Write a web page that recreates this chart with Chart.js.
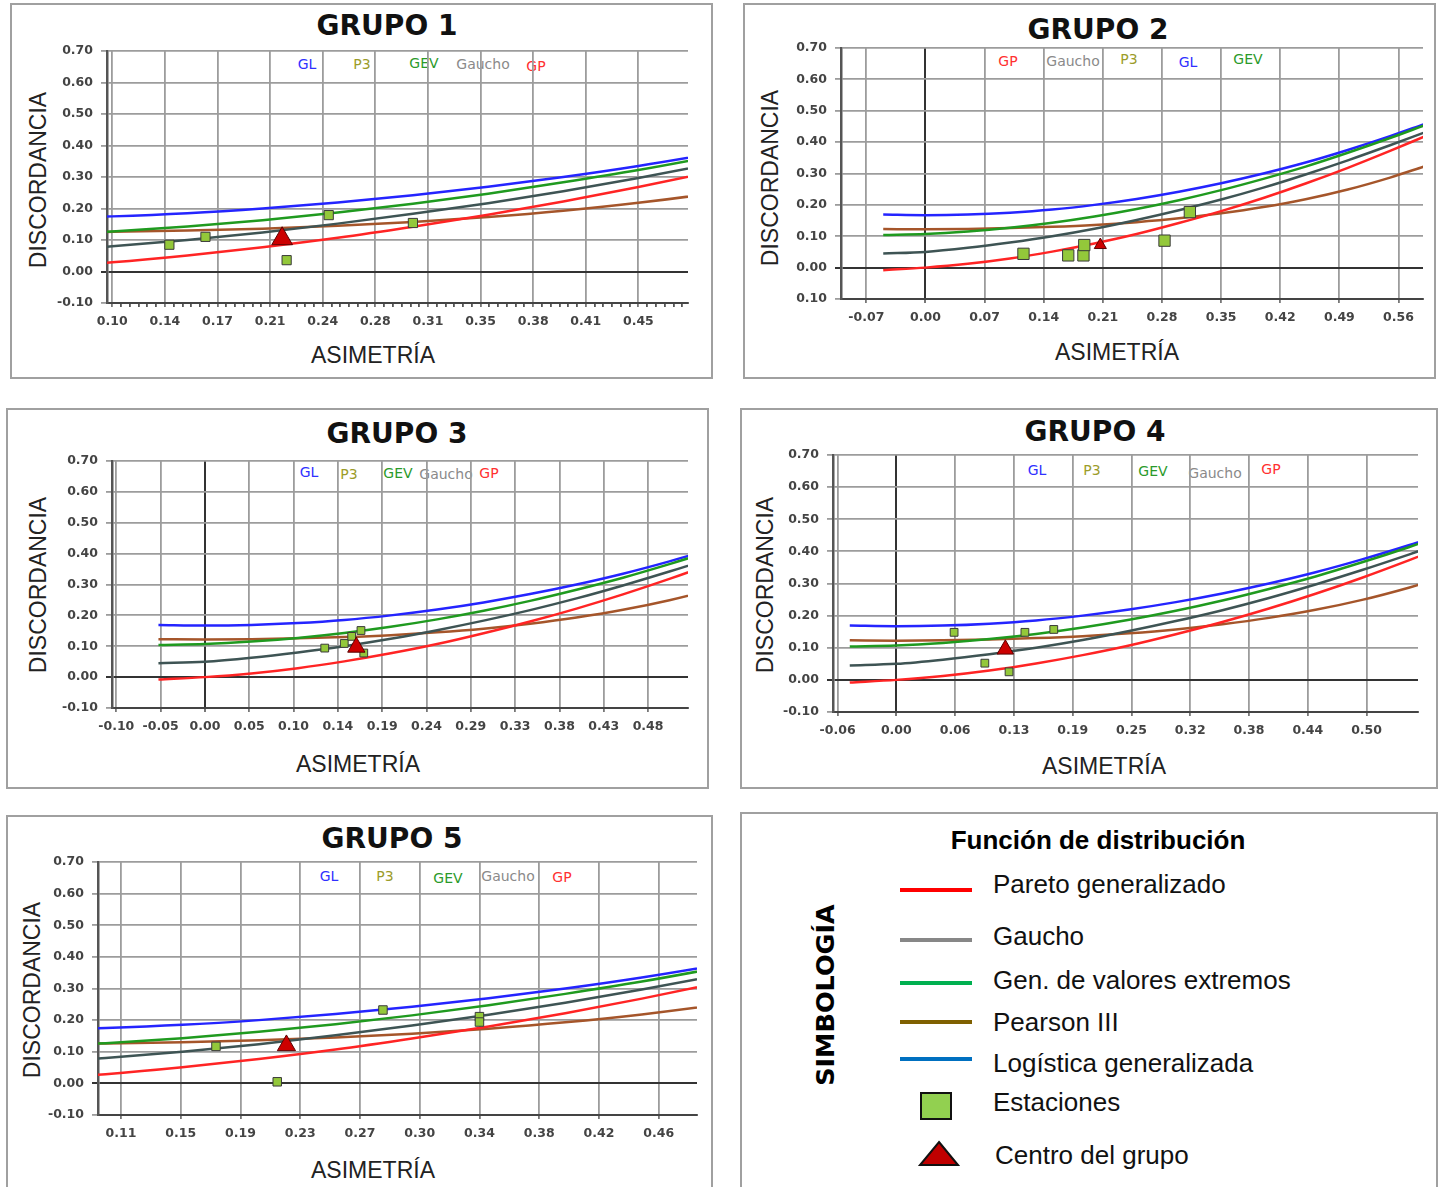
<!DOCTYPE html>
<html lang="es">
  <head>
    <meta charset="UTF-8" />
    <title>Diagramas de discordancia por grupo</title>
    <script src="https://cdn.jsdelivr.net/npm/chart.js"></script>
    <style>
      body {
        margin: 0;
        width: 1440px;
        height: 1187px;
        position: relative;
        overflow: hidden;
        background: #fff;
        font-family: "Liberation Sans", Arial, sans-serif;
      }
      .panel {
        position: absolute;
        box-sizing: border-box;
        border: 2px solid #a0a0a0;
      }
      .center {
        position: absolute;
        transform: translate(-50%, -50%);
        white-space: nowrap;
      }
      .title {
        font-family: "DejaVu Sans", sans-serif;
        font-weight: bold;
        font-size: 28px;
        color: #111;
      }
      .axis-title {
        font-size: 23px;
        color: #222;
      }
      .vertical {
        transform: translate(-50%, -50%) rotate(-90deg);
      }
      .tag {
        font-family: "DejaVu Sans", sans-serif;
        font-size: 14px;
      }
      canvas {
        position: absolute;
      }
      .legend-text {
        position: absolute;
        font-size: 26px;
        color: #111;
        transform: translateY(-50%);
        white-space: nowrap;
      }
      .swatch {
        position: absolute;
        left: 900px;
        width: 72px;
        height: 4px;
      }
    </style>
  </head>
  <body>
    <div id="page"></div>

    <!-- legend panel -->
    <div class="panel" style="left: 740px; top: 812px; width: 698px; height: 378px"></div>
    <div class="center" style="left: 1098px; top: 840px; font-weight: bold; font-size: 26px">
      Función de distribución
    </div>
    <div class="center vertical" style="left: 825px; top: 995px; font-family: 'DejaVu Sans'; font-weight: bold; font-size: 25.5px">
      SIMBOLOGÍA
    </div>
    <div class="swatch" style="top: 888px; background: #ff0000"></div>
    <div class="swatch" style="top: 938px; background: #878787"></div>
    <div class="swatch" style="top: 981px; background: #00b050"></div>
    <div class="swatch" style="top: 1020px; background: #7f6000"></div>
    <div class="swatch" style="top: 1057px; background: #0070c0"></div>
    <div style="position: absolute; left: 920px; top: 1092px; width: 28px; height: 24px; background: #92d050; border: 2px solid #111"></div>
    <svg style="position: absolute; left: 917px; top: 1140px" width="44" height="28">
      <polygon points="22,2 41,25 3,25" fill="#c00000" stroke="#111" stroke-width="2" />
    </svg>
    <div class="legend-text" style="left: 993px; top: 884px">Pareto generalizado</div>
    <div class="legend-text" style="left: 993px; top: 936px">Gaucho</div>
    <div class="legend-text" style="left: 993px; top: 980px">Gen. de valores extremos</div>
    <div class="legend-text" style="left: 993px; top: 1022px">Pearson III</div>
    <div class="legend-text" style="left: 993px; top: 1063px">Logística generalizada</div>
    <div class="legend-text" style="left: 993px; top: 1102px">Estaciones</div>
    <div class="legend-text" style="left: 995px; top: 1155px">Centro del grupo</div>

    <script>
      // theoretical curves (asimetría -> discordancia)
      const curveX = [-0.05, 0, 0.05, 0.1, 0.15, 0.2, 0.25, 0.3, 0.35, 0.4, 0.45, 0.5, 0.55, 0.59];
      const gpValues = [-0.008, 0, 0.012, 0.029, 0.051, 0.077, 0.107, 0.142, 0.18, 0.222, 0.268, 0.318, 0.372, 0.417];
      const gauchoValues = [0.045, 0.05, 0.063, 0.08, 0.1, 0.124, 0.152, 0.183, 0.217, 0.255, 0.297, 0.342, 0.39, 0.43];
      const gevValues = [0.104, 0.107, 0.115, 0.127, 0.143, 0.163, 0.187, 0.215, 0.247, 0.283, 0.322, 0.366, 0.413, 0.453];
      const p3Values = [0.123, 0.122, 0.123, 0.126, 0.13, 0.136, 0.145, 0.157, 0.173, 0.193, 0.218, 0.249, 0.287, 0.322];
      const glValues = [0.169, 0.167, 0.169, 0.175, 0.185, 0.2, 0.219, 0.242, 0.269, 0.3, 0.335, 0.375, 0.419, 0.457];

      const yTicks = [-0.1, 0, 0.1, 0.2, 0.3, 0.4, 0.5, 0.6, 0.7];
      const yTickLabels = ["-0.10", "0.00", "0.10", "0.20", "0.30", "0.40", "0.50", "0.60", "0.70"];
      const yTickLabelsG2 = ["0.10", "0.00", "0.10", "0.20", "0.30", "0.40", "0.50", "0.60", "0.70"];

      // Grupo 1
      const g1Ticks = [0.1, 0.135, 0.17, 0.205, 0.24, 0.275, 0.31, 0.345, 0.38, 0.415, 0.45];
      const g1TickLabels = ["0.10", "0.14", "0.17", "0.21", "0.24", "0.28", "0.31", "0.35", "0.38", "0.41", "0.45"];
      const g1StationX = [0.138, 0.162, 0.216, 0.244, 0.3];
      const g1StationY = [0.085, 0.11, 0.036, 0.179, 0.154];
      const g1CenterX = [0.213];
      const g1CenterY = [0.104];

      // Grupo 2
      const g2Ticks = [-0.07, 0, 0.07, 0.14, 0.21, 0.28, 0.35, 0.42, 0.49, 0.56];
      const g2TickLabels = ["-0.07", "0.00", "0.07", "0.14", "0.21", "0.28", "0.35", "0.42", "0.49", "0.56"];
      const g2StationX = [0.116, 0.169, 0.187, 0.188, 0.283, 0.313];
      const g2StationY = [0.044, 0.039, 0.039, 0.072, 0.086, 0.177];
      const g2CenterX = [0.207];
      const g2CenterY = [0.072];

      // Grupo 3
      const g3Ticks = [-0.0954, -0.0477, 0, 0.0477, 0.0954, 0.1431, 0.1908, 0.2385, 0.2862, 0.3339, 0.3816, 0.4293, 0.477];
      const g3TickLabels = ["-0.10", "-0.05", "0.00", "0.05", "0.10", "0.14", "0.19", "0.24", "0.29", "0.33", "0.38", "0.43", "0.48"];
      const g3StationX = [0.129, 0.15, 0.158, 0.168, 0.171];
      const g3StationY = [0.094, 0.109, 0.132, 0.151, 0.078];
      const g3CenterX = [0.163];
      const g3CenterY = [0.097];

      // Grupo 4
      const g4Ticks = [-0.0631, 0, 0.0631, 0.1262, 0.1893, 0.2524, 0.3155, 0.3786, 0.4417, 0.5048];
      const g4TickLabels = ["-0.06", "0.00", "0.06", "0.13", "0.19", "0.25", "0.32", "0.38", "0.44", "0.50"];
      const g4StationX = [0.062, 0.095, 0.121, 0.138, 0.169];
      const g4StationY = [0.148, 0.052, 0.025, 0.148, 0.157];
      const g4CenterX = [0.117];
      const g4CenterY = [0.095];

      // Grupo 5
      const g5Ticks = [0.11, 0.149, 0.188, 0.227, 0.266, 0.305, 0.344, 0.383, 0.422, 0.461];
      const g5TickLabels = ["0.11", "0.15", "0.19", "0.23", "0.27", "0.30", "0.34", "0.38", "0.42", "0.46"];
      const g5StationX = [0.172, 0.212, 0.281, 0.344, 0.344];
      const g5StationY = [0.117, 0.005, 0.232, 0.211, 0.194];
      const g5CenterX = [0.218];
      const g5CenterY = [0.12];

      const tagNames = ["GL", "P3", "GEV", "Gaucho", "GP"];
      const tagColors = { GL: "#3030ff", P3: "#9c9c2a", GEV: "#2a9a2a", Gaucho: "#8a8a8a", GP: "#ff3030" };

      // layout of each panel (page pixels)
      const groups = [
        {
          title: "GRUPO 1", box: [10, 3, 703, 376], plot: [107, 51, 689, 303],
          titlePos: [387, 25], xTitlePos: [373, 355], yTitlePos: [38, 180],
          xMin: 0.0965, xMax: 0.483, ticks: g1Ticks, labels: g1TickLabels, yLabels: yTickLabels,
          sx: g1StationX, sy: g1StationY, cx: g1CenterX, cy: g1CenterY, sq: 6.5, tri: 12,
          tags: [[307, 64], [362, 64], [424, 63], [483, 64], [536, 66]], minor: 6,
        },
        {
          title: "GRUPO 2", box: [743, 3, 693, 376], plot: [841, 48, 1423, 299],
          titlePos: [1098, 29], xTitlePos: [1117, 352], yTitlePos: [770, 178],
          xMin: -0.1, xMax: 0.589, ticks: g2Ticks, labels: g2TickLabels, yLabels: yTickLabelsG2,
          sx: g2StationX, sy: g2StationY, cx: g2CenterX, cy: g2CenterY, sq: 8, tri: 7,
          tags: [[1188, 62], [1129, 59], [1248, 59], [1073, 61], [1008, 61]], minor: 0,
        },
        {
          title: "GRUPO 3", box: [6, 408, 703, 381], plot: [112, 461, 688, 708],
          titlePos: [397, 433], xTitlePos: [358, 764], yTitlePos: [38, 585],
          xMin: -0.1, xMax: 0.52, ticks: g3Ticks, labels: g3TickLabels, yLabels: yTickLabels,
          sx: g3StationX, sy: g3StationY, cx: g3CenterX, cy: g3CenterY, sq: 5.5, tri: 10,
          tags: [[309, 472], [349, 474], [398, 473], [446, 474], [489, 473]], minor: 0,
        },
        {
          title: "GRUPO 4", box: [740, 408, 698, 381], plot: [833, 455, 1418, 712],
          titlePos: [1095, 431], xTitlePos: [1104, 766], yTitlePos: [765, 585],
          xMin: -0.068, xMax: 0.56, ticks: g4Ticks, labels: g4TickLabels, yLabels: yTickLabels,
          sx: g4StationX, sy: g4StationY, cx: g4CenterX, cy: g4CenterY, sq: 5.5, tri: 9.5,
          tags: [[1037, 470], [1092, 470], [1153, 471], [1215, 473], [1271, 469]], minor: 0,
        },
        {
          title: "GRUPO 5", box: [6, 815, 707, 380], plot: [98, 862, 697, 1115],
          titlePos: [392, 838], xTitlePos: [373, 1170], yTitlePos: [32, 990],
          xMin: 0.095, xMax: 0.486, ticks: g5Ticks, labels: g5TickLabels, yLabels: yTickLabels,
          sx: g5StationX, sy: g5StationY, cx: g5CenterX, cy: g5CenterY, sq: 6, tri: 10.5,
          tags: [[329, 876], [385, 876], [448, 878], [508, 876], [562, 877]], minor: 0,
        },
      ];

      const page = document.getElementById("page");
      const PAD_LEFT = 62;
      const PAD_TOP = 20;
      const PAD_RIGHT = 12;
      const PAD_BOTTOM = 36;

      function addText(cls, text, x, y, color) {
        const el = document.createElement("div");
        el.className = "center " + cls;
        el.textContent = text;
        el.style.left = x + "px";
        el.style.top = y + "px";
        if (color) el.style.color = color;
        page.appendChild(el);
      }

      function curve(values) {
        return curveX.map((x, i) => ({ x: x, y: values[i] }));
      }

      function lineSet(label, values, color) {
        return {
          label: label,
          data: curve(values),
          showLine: true,
          borderColor: color,
          borderWidth: 2.5,
          pointRadius: 0,
          cubicInterpolationMode: "monotone",
        };
      }

      // major ticks carry their label; optional minor ticks only get a tick mark
      function xTickList(g) {
        const list = [];
        const step = g.ticks[1] - g.ticks[0];
        g.ticks.forEach((v, i) => {
          list.push({ value: v, lbl: g.labels[i], isMajor: true });
          for (let k = 1; k < g.minor; k++) {
            const m = v + (step * k) / g.minor;
            if (m < g.xMax) list.push({ value: m, lbl: "", isMajor: false });
          }
        });
        for (let k = 1; k < g.minor; k++) {
          const m = g.ticks[0] - (step * k) / g.minor;
          if (m > g.xMin) list.unshift({ value: m, lbl: "", isMajor: false });
        }
        return list;
      }

      const tickFont = { family: "DejaVu Sans", size: 12.5, weight: "bold" };

      groups.forEach((g) => {
        const box = document.createElement("div");
        box.className = "panel";
        box.style.left = g.box[0] + "px";
        box.style.top = g.box[1] + "px";
        box.style.width = g.box[2] + "px";
        box.style.height = g.box[3] + "px";
        page.appendChild(box);

        addText("title", g.title, g.titlePos[0], g.titlePos[1]);
        addText("axis-title", "ASIMETRÍA", g.xTitlePos[0], g.xTitlePos[1]);
        addText("axis-title vertical", "DISCORDANCIA", g.yTitlePos[0], g.yTitlePos[1]);
        g.tags.forEach((p, i) => {
          const name = tagNames[i];
          addText("tag", name, p[0], p[1], tagColors[name]);
        });

        const [l, t, r, b] = g.plot;
        const canvas = document.createElement("canvas");
        canvas.width = r - l + PAD_LEFT + PAD_RIGHT;
        canvas.height = b - t + PAD_TOP + PAD_BOTTOM;
        canvas.style.left = l - PAD_LEFT + "px";
        canvas.style.top = t - PAD_TOP + "px";
        page.appendChild(canvas);

        const xTickObjs = xTickList(g);

        new Chart(canvas, {
          type: "scatter",
          data: {
            datasets: [
              {
                label: "Centro del grupo",
                data: g.cx.map((x, i) => ({ x: x, y: g.cy[i] })),
                pointStyle: "triangle",
                pointRadius: g.tri,
                backgroundColor: "#cc0000",
                borderColor: "#5a0000",
                borderWidth: 1,
              },
              {
                label: "Estaciones",
                data: g.sx.map((x, i) => ({ x: x, y: g.sy[i] })),
                pointStyle: "rect",
                pointRadius: g.sq,
                backgroundColor: "#93c83a",
                borderColor: "#3a3a3a",
                borderWidth: 1,
              },
              lineSet("GP", gpValues, "#ff2424"),
              lineSet("Gaucho", gauchoValues, "#3e5454"),
              lineSet("GEV", gevValues, "#1f9a1f"),
              lineSet("P3", p3Values, "#a5552a"),
              lineSet("GL", glValues, "#2424ff"),
            ],
          },
          options: {
            responsive: false,
            animation: false,
            devicePixelRatio: 1,
            layout: { padding: { top: PAD_TOP, right: PAD_RIGHT, left: 0, bottom: 0 } },
            plugins: { legend: { display: false }, tooltip: { enabled: false } },
            scales: {
              x: {
                type: "linear",
                min: g.xMin,
                max: g.xMax,
                afterFit: (s) => {
                  s.height = PAD_BOTTOM;
                },
                afterBuildTicks: (s) => {
                  s.ticks = xTickObjs.map((o) => ({ value: o.value, lbl: o.lbl, isMajor: o.isMajor }));
                },
                ticks: {
                  autoSkip: false,
                  maxRotation: 0,
                  minRotation: 0,
                  padding: 7,
                  color: "#444",
                  font: tickFont,
                  callback: (v, i, ticks) => ticks[i].lbl,
                },
                grid: {
                  color: (ctx) => {
                    if (!ctx.tick || !ctx.tick.isMajor) return "rgba(0,0,0,0)";
                    return ctx.tick.value === 0 ? "#333" : "#9c9c9c";
                  },
                  tickColor: (ctx) => (ctx.tick && ctx.tick.isMajor ? "#777" : "#555"),
                  lineWidth: (ctx) => (ctx.tick && ctx.tick.value === 0 ? 2 : 1.8),
                  tickLength: 4,
                },
                border: { color: "#444", width: 2 },
              },
              y: {
                min: -0.1,
                max: 0.7,
                afterFit: (s) => {
                  s.width = PAD_LEFT;
                },
                afterBuildTicks: (s) => {
                  s.ticks = yTicks.map((v) => ({ value: v }));
                },
                ticks: {
                  padding: 8,
                  color: "#444",
                  font: tickFont,
                  callback: (v, i) => g.yLabels[i],
                },
                grid: {
                  color: (ctx) => (ctx.tick && ctx.tick.value === 0 ? "#333" : "#9c9c9c"),
                  lineWidth: (ctx) => (ctx.tick && ctx.tick.value === 0 ? 2 : 1.8),
                  tickLength: 6,
                },
                border: { color: "#555", width: 2.5 },
              },
            },
          },
        });
      });
    </script>
  </body>
</html>
